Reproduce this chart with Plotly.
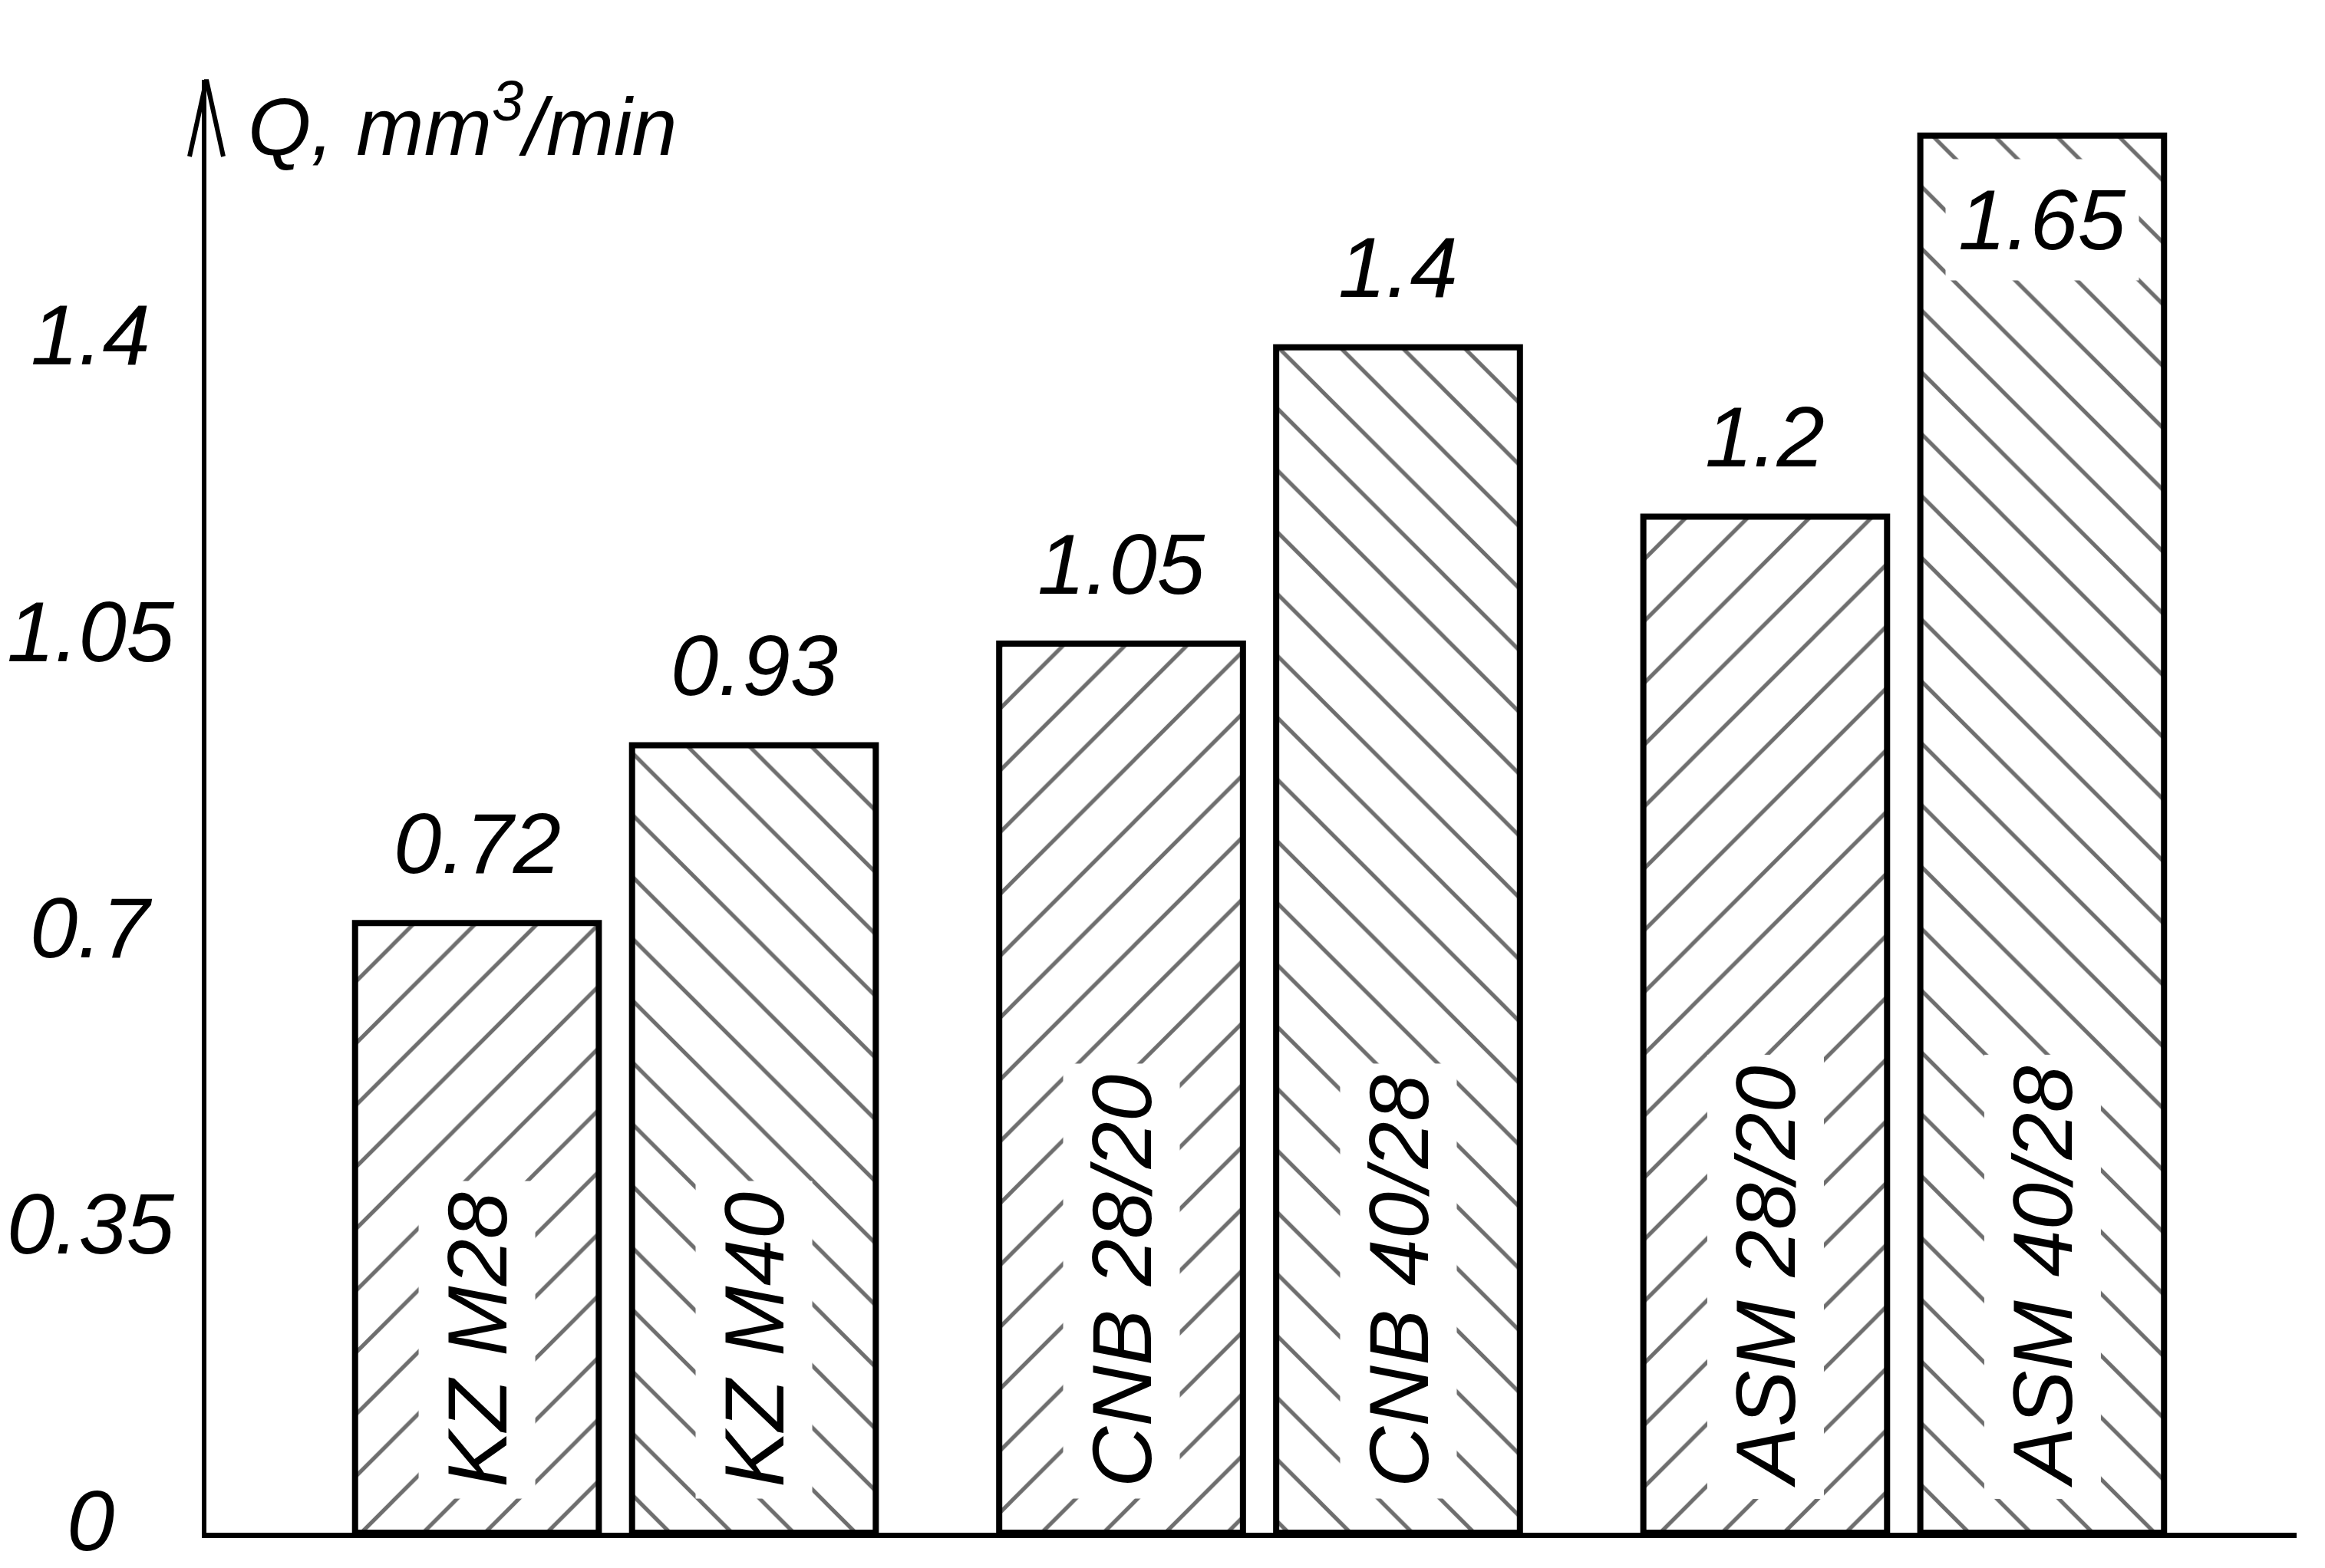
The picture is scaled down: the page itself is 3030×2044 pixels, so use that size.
import plotly.graph_objects as go

# data
groups = ["KZ", "CNB", "ASM"]
fine_names = ["KZ M28", "CNB 28/20", "ASM 28/20"]
fine_values = [0.72, 1.05, 1.2]
coarse_names = ["KZ M40", "CNB 40/28", "ASM 40/28"]
coarse_values = [0.93, 1.4, 1.65]
tick_values = [0, 0.35, 0.7, 1.05, 1.4]
tick_labels = ["0", "0.35", "0.7", "1.05", "1.4"]
axis_title = "Q, mm<sup>3</sup>/min"

FONT = "Liberation Sans, Arimo, Roboto, sans-serif"
W, H = 3030, 2044
M = dict(l=261, r=45, t=96, b=54)
Y_MAX = 1.716
BARGAP = 0.14
GROUPGAP = 0.12
HATCH = "#6e6e6e"


def text_font(size=112):
    return dict(family=FONT, size=size, color="black", style="italic")


fig = go.Figure()

for names, values, shape in [(fine_names, fine_values, "/"), (coarse_names, coarse_values, "\\")]:
    fig.add_trace(go.Bar(
        x=groups,
        y=values,
        name=names[0],
        marker=dict(
            color="white",
            line=dict(color="black", width=8),
            pattern=dict(shape=shape, size=57, solidity=0.09,
                         fgcolor=HATCH, bgcolor="white", fillmode="replace"),
        ),
        hoverinfo="skip",
    ))

# bar centres inside each group follow from the bar gaps
slot = (1 - BARGAP) / 2
offsets = [-slot / 2, slot / 2]

plot_h = H - M["t"] - M["b"]
px_per_unit = plot_h / Y_MAX

for k, (names, values) in enumerate([(fine_names, fine_values), (coarse_names, coarse_values)]):
    for i, (name, v) in enumerate(zip(names, values)):
        xc = i + offsets[k]
        # category name, rotated, at the foot of the bar
        fig.add_annotation(
            x=xc, y=0, xref="x", yref="y", text=name, showarrow=False,
            textangle=-90, xanchor="center", yanchor="bottom", yshift=44,
            bgcolor="white", borderpad=14, font=text_font(110),
        )
        # value label: above the bar, or inside it when there is no room
        inside = v * px_per_unit + 170 > plot_h
        fig.add_annotation(
            x=xc, y=v, xref="x", yref="y", text=str(v), showarrow=False,
            xanchor="center", yanchor="middle",
            yshift=-110 if inside else 104,
            bgcolor="white" if inside else "rgba(0,0,0,0)", borderpad=16,
            font=text_font(112),
        )

# y tick labels
for tv, tl in zip(tick_values, tick_labels):
    fig.add_annotation(
        x=-0.0554, y=tv, xref="paper", yref="y", text=tl, showarrow=False,
        xanchor="center", yanchor="middle", yshift=16, font=text_font(112),
    )

# axis title next to the arrow
fig.add_annotation(
    x=0.019, y=0.972, xref="paper", yref="paper", text=axis_title,
    showarrow=False, xanchor="left", yanchor="middle", font=text_font(106),
)

# open arrow head on top of the y axis
dx = 22 / (W - M["l"] - M["r"])
dy = 100 / plot_h
fig.add_shape(
    type="path", xref="paper", yref="paper",
    path=f"M {-dx} {1 - dy} L 0 1 L {dx} {1 - dy}",
    line=dict(color="black", width=6),
)

fig.update_layout(
    width=W,
    height=H,
    margin=M,
    paper_bgcolor="white",
    plot_bgcolor="white",
    barmode="group",
    bargap=BARGAP,
    bargroupgap=GROUPGAP,
    showlegend=False,
    font=text_font(112),
)
fig.update_xaxes(
    type="category", range=[-0.635, 2.61], showline=True, linecolor="black",
    linewidth=7, showticklabels=False, ticks="", showgrid=False, zeroline=False,
)
fig.update_yaxes(
    range=[0, Y_MAX], showline=True, linecolor="black", linewidth=6,
    showticklabels=False, ticks="", showgrid=False, zeroline=False,
)

fig.write_html("out.html")
